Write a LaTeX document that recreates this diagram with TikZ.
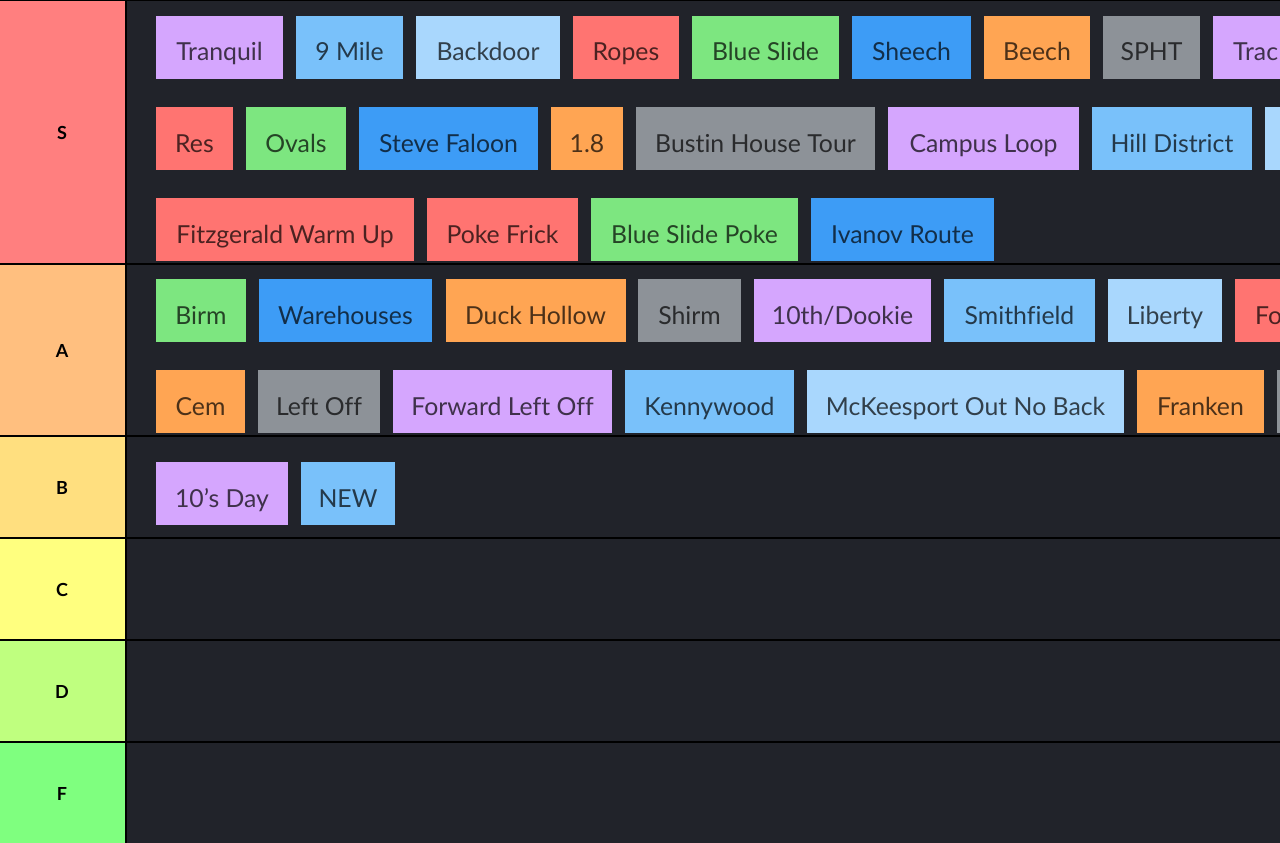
\documentclass[tikz,border=0pt]{standalone}
\usepackage{fontspec}
\setmainfont[Ligatures = NoCommon]{Lato}

\definecolor{board}{RGB}{33,35,42}
\definecolor{tierS}{RGB}{255,127,127}
\definecolor{tierA}{RGB}{255,191,127}
\definecolor{tierB}{RGB}{255,223,127}
\definecolor{tierC}{RGB}{255,255,127}
\definecolor{tierD}{RGB}{191,255,127}
\definecolor{tierF}{RGB}{127,255,127}
\definecolor{cPurple}{RGB}{213,166,254}
\definecolor{cSky}{RGB}{121,193,250}
\definecolor{cPale}{RGB}{169,215,253}
\definecolor{cRed}{RGB}{255,116,113}
\definecolor{cGreen}{RGB}{125,230,128}
\definecolor{cBlue}{RGB}{61,156,246}
\definecolor{cOrange}{RGB}{255,165,83}
\definecolor{cGray}{RGB}{141,146,152}

\tikzset{
	tile/.style = {inner sep = 0pt, minimum height = 63pt, text height = 30pt, text depth = 3pt,
		font = \fontsize{24.8}{28}\selectfont, text = black, text opacity = 0.7},
	edge tile/.style = {tile, anchor = west, inner xsep = 20pt, align = left},
	tier/.style = {font = \fontsize{18}{21}\selectfont\bfseries, text = black}
}

\begin{document}
\begin{tikzpicture}[x = 1pt, y = -1pt]

	\useasboundingbox (0, 0) rectangle (1280, 843);
	\clip (0, 0) rectangle (1280, 843);
	\fill [black] (0, 0) rectangle (1280, 843);

	% Tier labels and lanes

	\fill [tierS] (0, 1) rectangle (124.5, 262.5);
	\fill [tierA] (0, 264.5) rectangle (124.5, 434.5);
	\fill [tierB] (0, 436.5) rectangle (124.5, 536.5);
	\fill [tierC] (0, 538.5) rectangle (124.5, 638.5);
	\fill [tierD] (0, 640.5) rectangle (124.5, 740.5);
	\fill [tierF] (0, 742.5) rectangle (124.5, 843);

	\fill [board] (126.5, 1) rectangle (1280, 262.5);
	\fill [board] (126.5, 264.5) rectangle (1280, 434.5);
	\fill [board] (126.5, 436.5) rectangle (1280, 536.5);
	\fill [board] (126.5, 538.5) rectangle (1280, 638.5);
	\fill [board] (126.5, 640.5) rectangle (1280, 740.5);
	\fill [board] (126.5, 742.5) rectangle (1280, 843);

	\node [tier] (labelS) at (62, 133) {S};
	\node [tier] (labelA) at (62, 351) {A};
	\node [tier] (labelB) at (62, 488) {B};
	\node [tier] (labelC) at (62, 590) {C};
	\node [tier] (labelD) at (62, 692) {D};
	\node [tier] (labelF) at (62, 794) {F};

	% Tier S

	\node [tile, fill = cPurple, minimum width = 127pt] (tranquil) at (219.5, 47.5) {Tranquil};
	\node [tile, fill = cSky, minimum width = 107pt] (nineMile) at (349.5, 47.5) {9 Mile};
	\node [tile, fill = cPale, minimum width = 144pt] (backdoor) at (488, 47.5) {Backdoor};
	\node [tile, fill = cRed, minimum width = 106pt] (ropes) at (626, 47.5) {Ropes};
	\node [tile, fill = cGreen, minimum width = 147pt] (blueSlide) at (765.5, 47.5) {Blue Slide};
	\node [tile, fill = cBlue, minimum width = 119pt] (sheech) at (911.5, 47.5) {Sheech};
	\node [tile, fill = cOrange, minimum width = 106pt] (beech) at (1037, 47.5) {Beech};
	\node [tile, fill = cGray, minimum width = 97pt] (spht) at (1151.5, 47.5) {SPHT};
	\node [edge tile, fill = cPurple] (trac) at (1213, 47.5) {Trac};

	\node [tile, fill = cRed, minimum width = 77pt] (res) at (194.5, 138.5) {Res};
	\node [tile, fill = cGreen, minimum width = 100pt] (ovals) at (296, 138.5) {Ovals};
	\node [tile, fill = cBlue, minimum width = 179pt] (steveFaloon) at (448.5, 138.5) {Steve Faloon};
	\node [tile, fill = cOrange, minimum width = 72pt] (oneEight) at (587, 138.5) {1.8};
	\node [tile, fill = cGray, minimum width = 239pt] (bustin) at (755.5, 138.5) {Bustin House Tour};
	\node [tile, fill = cPurple, minimum width = 191pt] (campusLoop) at (983.5, 138.5) {Campus Loop};
	\node [tile, fill = cSky, minimum width = 160pt] (hillDistrict) at (1172, 138.5) {Hill District};
	\node [tile, fill = cPale, anchor = west, minimum width = 60pt] (nextS) at (1265, 138.5) {};

	\node [tile, fill = cRed, minimum width = 258pt] (fitzgerald) at (285, 229.5) {Fitzgerald Warm Up};
	\node [tile, fill = cRed, minimum width = 151pt] (pokeFrick) at (502.5, 229.5) {Poke Frick};
	\node [tile, fill = cGreen, minimum width = 207pt] (blueSlidePoke) at (694.5, 229.5) {Blue Slide Poke};
	\node [tile, fill = cBlue, minimum width = 183pt] (ivanov) at (902.5, 229.5) {Ivanov Route};

	% Tier A

	\node [tile, fill = cGreen, minimum width = 90pt] (birm) at (201, 310.5) {Birm};
	\node [tile, fill = cBlue, minimum width = 173pt] (warehouses) at (345.5, 310.5) {Warehouses};
	\node [tile, fill = cOrange, minimum width = 180pt] (duckHollow) at (535.5, 310.5) {Duck Hollow};
	\node [tile, fill = cGray, minimum width = 103pt] (shirm) at (689.5, 310.5) {Shirm};
	\node [tile, fill = cPurple, minimum width = 177pt] (dookie) at (842.5, 310.5) {10th/Dookie};
	\node [tile, fill = cSky, minimum width = 151pt] (smithfield) at (1019.5, 310.5) {Smithfield};
	\node [tile, fill = cPale, minimum width = 114pt] (liberty) at (1165, 310.5) {Liberty};
	\node [edge tile, fill = cRed] (fo) at (1235, 310.5) {Fo};

	\node [tile, fill = cOrange, minimum width = 89pt] (cem) at (200.5, 401.5) {Cem};
	\node [tile, fill = cGray, minimum width = 122pt] (leftOff) at (319, 401.5) {Left Off};
	\node [tile, fill = cPurple, minimum width = 219pt] (forwardLeftOff) at (502.5, 401.5) {Forward Left Off};
	\node [tile, fill = cSky, minimum width = 169pt] (kennywood) at (709.5, 401.5) {Kennywood};
	\node [tile, fill = cPale, minimum width = 317pt] (mckeesport) at (965.5, 401.5) {McKeesport Out No Back};
	\node [tile, fill = cOrange, minimum width = 127pt] (franken) at (1200.5, 401.5) {Franken};
	\node [tile, fill = cGray, anchor = west, minimum width = 60pt] (nextA) at (1277, 401.5) {};

	% Tier B

	\node [tile, fill = cPurple, minimum width = 132pt] (tensDay) at (222, 493.5) {10{\char"0027}s Day};
	\node [tile, fill = cSky, minimum width = 94pt] (new) at (348, 493.5) {NEW};

\end{tikzpicture}
\end{document}
